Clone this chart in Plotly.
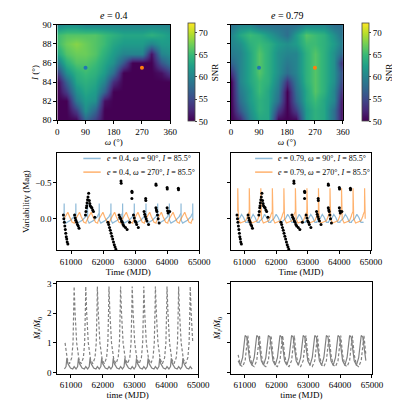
import plotly.graph_objects as go

omega = [0, 30, 60, 90, 120, 150, 180, 210, 240, 270, 300, 330, 360]
incl = [80, 81, 82, 83, 84, 85, 86, 87, 88, 89, 90]
snr_e04 = [
    [50,50,50,57,54,50,50,50,50,50,50,50,50],
    [50,50,54,61,57,50,50,50,50,50,50,50,50],
    [50,50,59,62,61,51,50,50,50,50,50,50,50],
    [50,54,61,63,62,57,50,50,50,50,50,50,50],
    [50,57,63,64,63,60,53,50,50,50,50,50,50],
    [54,61,64,65,64,62,58,50,50,50,50,51,54],
    [59,64,66,66,65,63,61,56,50,50,50,56,59],
    [63,66,67,67,66,64,62,60,60,60,51,60,61],
    [65,67,68,67,66,65,63,62,62,62,60,62,62],
    [65,66,66,66,66,65,64,63,63,63,64,63,62],
    [60,61,61,60,60,60,60,60,60,60,60,60,60]]
snr_e079 = [
    [50,52,60,63,63,50,50,50,62,64,63,58,50],
    [50,56,61,64,63,54,50,54,62,64,63,58,50],
    [50,58,62,64,63,58,50,57,63,65,63,60,50],
    [50,59,62,65,63,59,50,58,63,66,64,60,52],
    [50,60,63,65,64,60,53,59,64,66,64,61,54],
    [53,60,63,66,64,61,58,60,64,66,64,61,55],
    [57,60,63,66,64,61,59,60,64,66,64,61,52],
    [59,60,63,66,64,61,60,60,64,66,64,61,57],
    [60,61,64,65,64,62,61,62,65,65,64,62,59],
    [60,63,65,64,62,60,58,62,66,65,64,61,58],
    [58,60,60,58,58,58,58,58,60,60,60,58,58]]

peaks = [60735, 61100, 61465, 61830, 62195, 62560, 62925, 63290, 63655, 64020, 64385, 64750]
t_start, t_end = 60780, 64830

ml_blue = [(0,-0.04),(48,-0.08),(50,-0.21),(53,0.02),(100,0.06),(250,0.02),(364,-0.03)]
ml_orange = [(0,0.05),(50,0.0),(120,-0.06),(165,-0.09),(215,-0.03),(300,0.05),(364,0.06)]
mr_orange = [(0,-0.05),(48,-0.1),(50,-0.42),(53,-0.2),(70,0.0),(130,0.06),(300,0.03),(364,-0.04)]
mr_blue = [(0,0.04),(100,0.0),(170,-0.06),(230,-0.02),(300,0.05),(364,0.05)]
bl_dashed = [(0,2.9),(30,2.0),(80,1.0),(150,0.45),(220,0.3),(290,0.5),(330,1.0),(355,2.2)]
bl_solid = [(0,0.2),(60,0.12),(110,0.2),(135,0.48),(170,0.3),(250,0.15),(320,0.12)]
br_dashed = [(0,1.25),(60,0.6),(130,0.25),(200,0.2),(280,0.4),(340,1.0)]
br_solid = [(0,0.9),(60,0.4),(130,0.25),(200,0.5),(280,1.25),(330,1.2)]

obs_t = [60760,60775,60790,60805,60820,60835,60850,60865,60880,60900,
         61110,61130,61150,61175,61200,61225,61250,
         61450,61465,61480,61490,61500,61515,61530,61550,61570,61585,61600,61625,61650,61675,61700,61740,
         62150,62175,62200,62225,62250,62275,62300,62325,62350,62375,62400,62560,62565,
         62500,62525,62550,62575,62600,62625,62650,62700,62750,62900,62900,62905,
         62950,62975,63000,63025,63050,63100,63330,63335,63280,63300,63320,63345,63370,63420,
         63650,63655,63650,63665,63680,63700,63720,63750,64000,64005,64000,64015,64030,64350,64355,64080,62830]
obs_m = [-0.05,0.0,0.05,0.1,0.15,0.2,0.25,0.28,0.32,0.35,
         -0.05,-0.01,0.02,0.05,0.08,0.1,0.13,
         -0.05,-0.1,-0.15,-0.18,-0.22,-0.26,-0.3,-0.35,-0.25,-0.21,-0.18,-0.16,-0.15,-0.12,-0.1,-0.02,
         0.05,0.08,0.12,0.16,0.2,0.24,0.28,0.32,0.36,0.39,0.42,-0.52,-0.49,
         -0.05,-0.02,0.0,0.03,0.05,0.08,0.1,0.12,0.15,-0.38,-0.28,-0.36,
         -0.05,-0.01,0.03,0.05,0.08,0.12,-0.28,-0.25,-0.1,-0.06,-0.03,0.0,0.03,0.08,
         -0.48,-0.46,-0.15,-0.12,-0.1,-0.05,0.0,0.06,-0.43,-0.41,-0.15,-0.11,-0.08,-0.42,-0.4,-0.1,0.05]


def build(tpl):
    xs, ys = [], []
    for p in peaks:
        for ph, v in tpl:
            t = p + ph
            if t_start <= t <= t_end:
                xs.append(t); ys.append(v)
    return xs, ys


FONT = "Liberation Serif"
fig = go.Figure()
cb = dict(thickness=7, len=98, lenmode="pixels", ypad=0, y=0.8475, yanchor="middle",
          tickvals=[50,55,60,65,70], tickfont=dict(size=9),
          title=dict(text="SNR", side="right", font=dict(size=9)),
          outlinewidth=0.8, ticks="outside", ticklen=2)
fig.add_trace(go.Heatmap(x=omega, y=incl, z=snr_e04, colorscale="Viridis", zmin=50, zmax=72,
                         zsmooth="best", xaxis="x", yaxis="y", colorbar=dict(cb, x=0.435, xanchor="left")))
fig.add_trace(go.Heatmap(x=omega, y=incl, z=snr_e079, colorscale="Viridis", zmin=50, zmax=72,
                         zsmooth="best", xaxis="x2", yaxis="y2", colorbar=dict(cb, x=0.885, xanchor="left")))
for xa, ya in [("x", "y"), ("x2", "y2")]:
    fig.add_trace(go.Scatter(x=[90], y=[85.5], mode="markers", marker=dict(color="#1f77b4", size=4),
                             xaxis=xa, yaxis=ya, showlegend=False))
    fig.add_trace(go.Scatter(x=[270], y=[85.5], mode="markers", marker=dict(color="#ff7f0e", size=4),
                             xaxis=xa, yaxis=ya, showlegend=False))

BLUE = "rgba(31,119,180,0.5)"
ORANGE = "rgba(255,127,14,0.6)"
for xa, ya, tb, to, lab in [("x3", "y3", ml_blue, ml_orange, "0.4"), ("x4", "y4", mr_blue, mr_orange, "0.79")]:
    bx, by = build(tb)
    ox, oy = build(to)
    fig.add_trace(go.Scatter(x=bx, y=by, mode="lines", line=dict(color=BLUE, width=1.2),
                             xaxis=xa, yaxis=ya, showlegend=False))
    fig.add_trace(go.Scatter(x=ox, y=oy, mode="lines", line=dict(color=ORANGE, width=1.2),
                             xaxis=xa, yaxis=ya, showlegend=False))
    fig.add_trace(go.Scatter(x=obs_t, y=obs_m, mode="markers", marker=dict(color="black", size=3),
                             xaxis=xa, yaxis=ya, showlegend=False))

for xa, ya, td, ts in [("x5", "y5", bl_dashed, bl_solid), ("x6", "y6", br_dashed, br_solid)]:
    dx, dy = build(td)
    sx, sy = build(ts)
    fig.add_trace(go.Scatter(x=dx, y=dy, mode="lines", line=dict(color="#808080", width=1.2, dash="3px,2px"),
                             xaxis=xa, yaxis=ya, showlegend=False))
    fig.add_trace(go.Scatter(x=sx, y=sy, mode="lines", line=dict(color="#808080", width=1.2),
                             xaxis=xa, yaxis=ya, showlegend=False))

ax = dict(showline=True, mirror=True, linecolor="black", linewidth=0.8, ticks="outside",
          ticklen=3, tickcolor="black", showgrid=False, zeroline=False, tickfont=dict(size=9))
tf = dict(size=9)
tlx = [61000, 62000, 63000, 64000, 65000]
tlt = [str(v) for v in tlx]
bdom = [0.075, 0.31]
fig.update_layout(
    width=400, height=400, margin=dict(l=0, r=0, t=0, b=0),
    paper_bgcolor="white", plot_bgcolor="white", font=dict(family=FONT, color="black", size=9),
    xaxis=dict(ax, domain=[0.1225, 0.415], range=[0, 360], tickvals=[0, 90, 180, 270, 360],
               title=dict(text="<i>ω</i> (°)", font=tf, standoff=2), anchor="y"),
    yaxis=dict(ax, domain=[0.725, 0.97], range=[80, 90], tickvals=[80, 82, 84, 86, 88, 90],
               title=dict(text="<i>I</i> (°)", font=tf, standoff=2), anchor="x"),
    xaxis2=dict(ax, domain=[0.5725, 0.8625], range=[0, 360], tickvals=[0, 90, 180, 270, 360],
                title=dict(text="<i>ω</i> (°)", font=tf, standoff=2), anchor="y2"),
    yaxis2=dict(ax, domain=[0.725, 0.97], range=[80, 90], tickvals=[80, 82, 84, 86, 88, 90],
                showticklabels=False, anchor="x2"),
    xaxis3=dict(ax, domain=[0.1225, 0.49], range=[60570, 65000], tickvals=tlx, ticktext=tlt,
                title=dict(text="Time (MJD)", font=tf, standoff=2), anchor="y3"),
    yaxis3=dict(ax, domain=[0.3925, 0.64], range=[0.43, -0.9], tickvals=[-0.5, 0.0],
                ticktext=["−0.5", "0.0"],
                title=dict(text="Variability (Mag)", font=tf, standoff=4), anchor="x3"),
    xaxis4=dict(ax, domain=[0.5725, 0.935], range=[60570, 65000], tickvals=tlx, ticktext=tlt,
                title=dict(text="Time (MJD)", font=tf, standoff=2), anchor="y4"),
    yaxis4=dict(ax, domain=[0.3925, 0.64], range=[0.43, -0.9], tickvals=[-0.5, 0.0],
                showticklabels=False, anchor="x4"),
    xaxis5=dict(ax, domain=[0.1225, 0.4875], range=[60570, 65000], tickvals=tlx, ticktext=tlt,
                title=dict(text="time (MJD)", font=tf, standoff=0), anchor="y5"),
    yaxis5=dict(ax, domain=bdom, range=[-0.04, 3.05], tickvals=[0, 1, 2, 3],
                title=dict(text="<i>Ṁ<sub>l</sub></i>/<i>Ṁ</i><sub>0</sub>", font=tf, standoff=4), anchor="x5"),
    xaxis6=dict(ax, domain=[0.5725, 0.9375], range=[60570, 65000], tickvals=tlx, ticktext=tlt,
                title=dict(text="time (MJD)", font=tf, standoff=0), anchor="y6"),
    yaxis6=dict(ax, domain=bdom, range=[-0.04, 3.05], tickvals=[0, 1, 2, 3],
                showticklabels=False,
                title=dict(text="<i>Ṁ<sub>l</sub></i>/<i>Ṁ</i><sub>0</sub>", font=tf, standoff=4), anchor="x6"),
)

for x, y, t in [(0.27, 0.975, "<i>e</i> = 0.4"), (0.72, 0.975, "<i>e</i> = 0.79")]:
    fig.add_annotation(x=x, y=y, xref="paper", yref="paper", text=t, showarrow=False,
                       xanchor="center", yanchor="bottom", font=dict(size=10))
for x0, lab in [(0.49, "0.4"), (0.935, "0.79")]:
    for i, (col, w) in enumerate([(BLUE, "90"), (ORANGE, "270")]):
        yy = 0.627 - i * 0.035
        fig.add_shape(type="line", xref="paper", yref="paper", x0=x0 - 0.3, x1=x0 - 0.255,
                      y0=yy, y1=yy, line=dict(color=col, width=1.5))
        fig.add_annotation(x=x0 - 0.245, y=yy, xref="paper", yref="paper", showarrow=False,
                           xanchor="left", yanchor="middle", font=dict(size=8),
                           text=f"<i>e</i> = {lab}, <i>ω</i> = {w}°, <i>I</i> = 85.5°")

fig.write_html("out.html")
